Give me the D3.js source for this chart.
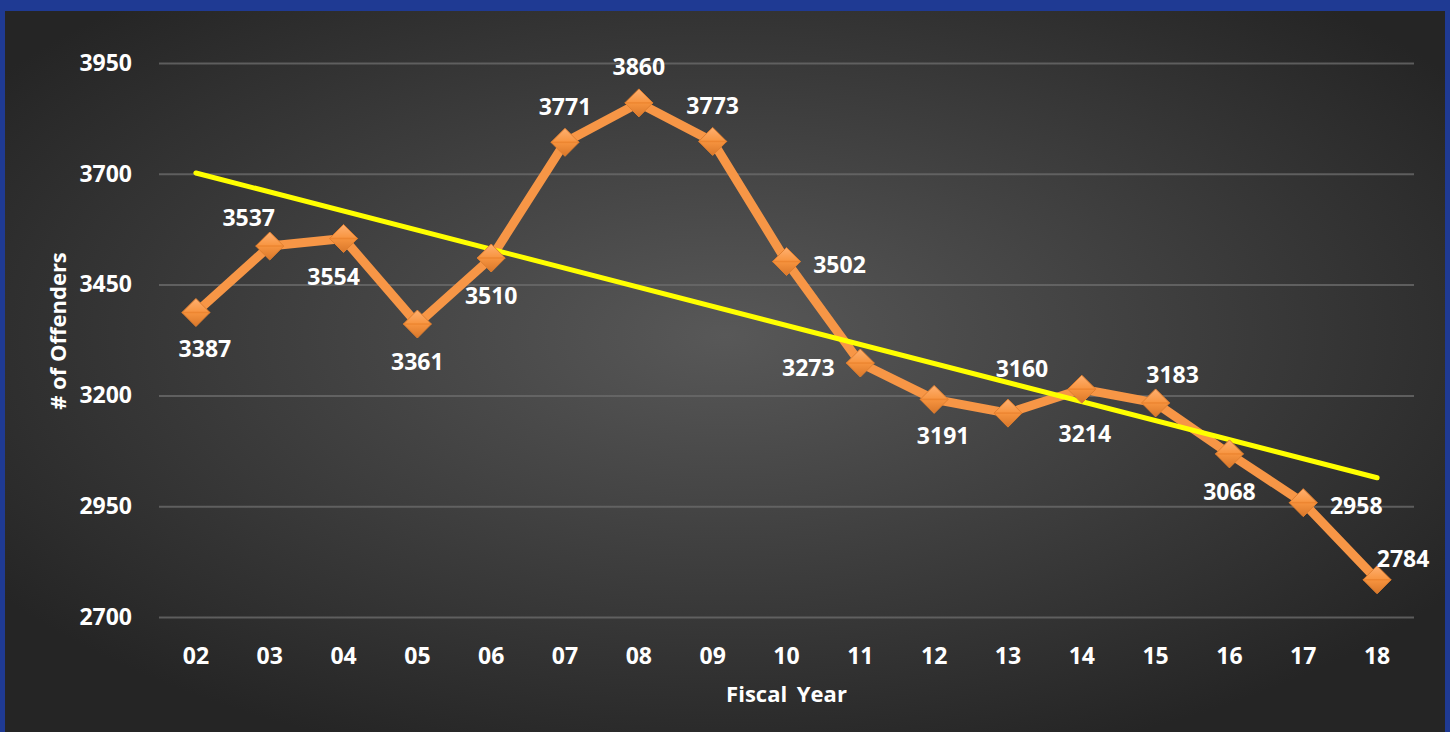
<!DOCTYPE html>
<html>
<head>
<meta charset="utf-8">
<script src="https://cdn.jsdelivr.net/npm/d3@7"></script>
<style>
  html, body { margin: 0; padding: 0; background: #1f3a93; }
  svg { display: block; }
  text { font-family: "Open Sans", "Noto Sans", sans-serif; font-weight: bold; fill: #ffffff; }
</style>
</head>
<body>
<svg id="chart" width="1450" height="732"></svg>
<script>
// 数据
const years = ["02", "03", "04", "05", "06", "07", "08", "09", "10", "11", "12", "13", "14", "15", "16", "17", "18"];
const offenders = [3387, 3537, 3554, 3361, 3510, 3771, 3860, 3773, 3502, 3273, 3191, 3160, 3214, 3183, 3068, 2958, 2784];
const yTicks = [2700, 2950, 3200, 3450, 3700, 3950];
// 标签放在点的哪一边
const labelSide = ["belowRight", "aboveLeft", "belowLeft", "below", "below", "above", "above", "above", "right",
    "left", "belowRight", "aboveRightFar", "belowFar", "aboveRight", "below", "right", "aboveRightNear"];

const W = 1450, H = 732;
const margin = { left: 159, right: 36, top: 63, bottom: 115 };

const svg = d3.select("#chart");
const defs = svg.append("defs");

// 背景渐变
let bg = defs.append("radialGradient")
    .attr("id", "bgGrad")
    .attr("cx", "50%").attr("cy", "45%").attr("r", "62%");
bg.append("stop").attr("offset", "0%").attr("stop-color", "#585858");
bg.append("stop").attr("offset", "100%").attr("stop-color", "#252525");

// 菱形标记渐变
let mk = defs.append("linearGradient")
    .attr("id", "mkGrad")
    .attr("x1", "0").attr("y1", "0").attr("x2", "0").attr("y2", "1");
mk.append("stop").attr("offset", "0%").attr("stop-color", "#ffb070");
mk.append("stop").attr("offset", "50%").attr("stop-color", "#f7943f");
mk.append("stop").attr("offset", "100%").attr("stop-color", "#d9772a");

// 蓝色边框 + 深色背景
svg.append("rect").attr("width", W).attr("height", H).attr("fill", "#1f3a93");
svg.append("rect")
    .attr("x", 5).attr("y", 11)
    .attr("width", 1440).attr("height", H - 11)
    .attr("fill", "url(#bgGrad)");

const x = d3.scaleBand()
    .domain(years)
    .range([margin.left, W - margin.right])
    .padding(0);
const y = d3.scaleLinear()
    .domain([2700, 3950])
    .range([617, 63]);

const cx = d => x(d) + x.bandwidth() / 2;

// 网格线
const yAxis = d3.axisLeft(y)
    .tickValues(yTicks)
    .tickFormat(d3.format("d"))
    .tickSize(-(W - margin.right - margin.left))
    .tickPadding(27);
let gy = svg.append("g")
    .attr("transform", `translate(${margin.left},0)`)
    .call(yAxis);
gy.select(".domain").remove();
gy.selectAll(".tick line").attr("stroke", "#6a6a6a").attr("stroke-width", 2).attr("stroke-opacity", 0.8);
gy.selectAll(".tick text").attr("font-size", 23).attr("fill", "#fff");

// x 轴
const xAxis = d3.axisBottom(x).tickSize(0).tickPadding(0);
let gx = svg.append("g")
    .attr("transform", `translate(0,647)`)
    .call(xAxis);
gx.select(".domain").remove();
gx.selectAll(".tick text").attr("font-size", 23).attr("fill", "#fff").attr("dy", "0.72em");

// 轴标题
svg.append("text")
    .attr("x", (margin.left + W - margin.right) / 2)
    .attr("y", 702)
    .attr("text-anchor", "middle")
    .attr("font-size", 22)
    .style("word-spacing", "4px")
    .text("Fiscal Year");
svg.append("text")
    .attr("transform", "translate(66,331) rotate(-90)")
    .attr("text-anchor", "middle")
    .attr("font-size", 22)
    .text("# of Offenders");

// 折线
const line = d3.line()
    .x((d, i) => cx(years[i]))
    .y(d => y(d));
svg.append("path")
    .datum(offenders)
    .attr("d", line)
    .attr("fill", "none")
    .attr("stroke", "#f79646")
    .attr("stroke-width", 9)
    .attr("stroke-linejoin", "round");

// 趋势线 (线性回归)
const n = offenders.length;
const mx = (n - 1) / 2;
const my = d3.mean(offenders);
let sxy = 0, sxx = 0;
offenders.forEach((v, i) => {
    sxy += (i - mx) * (v - my);
    sxx += (i - mx) * (i - mx);
});
const slope = sxy / sxx;
const icpt = my - slope * mx;
svg.append("line")
    .attr("x1", cx(years[0]))
    .attr("y1", y(icpt))
    .attr("x2", cx(years[n - 1]))
    .attr("y2", y(icpt + slope * (n - 1)))
    .attr("stroke", "#ffff00")
    .attr("stroke-width", 5)
    .attr("stroke-linecap", "round");

// 菱形
const s = 14;
let markers = svg.append("g").selectAll("g")
    .data(offenders)
    .join("g")
    .attr("transform", (d, i) => `translate(${cx(years[i])},${y(d)})`);
markers.append("path")
    .attr("d", `M0,${-s}L${s},0L0,${s}L${-s},0Z`)
    .attr("fill", "url(#mkGrad)")
    .attr("stroke", "#e07f30")
    .attr("stroke-width", 1);
markers.append("path")
    .attr("d", `M${-s},0L${s},0`)
    .attr("stroke", "#e8802c")
    .attr("stroke-width", 1.5)
    .attr("stroke-opacity", 0.7);

// 数据标签
const offs = {
    below: [0, 38],
    belowRight: [9, 36],
    belowFar: [3, 45],
    above: [0, -36],
    aboveLeft: [-21, -28],
    belowLeft: [-10, 38],
    right: [53, 3],
    left: [-52, 5],
    aboveRight: [17, -28],
    aboveRightFar: [14, -44],
    aboveRightNear: [26, -21]
};
svg.append("g").selectAll("text")
    .data(offenders)
    .join("text")
    .attr("x", (d, i) => cx(years[i]) + offs[labelSide[i]][0])
    .attr("y", (d, i) => y(d) + offs[labelSide[i]][1])
    .attr("text-anchor", "middle")
    .attr("dy", "0.36em")
    .attr("font-size", 23)
    .text(d => d);
</script>
</body>
</html>
